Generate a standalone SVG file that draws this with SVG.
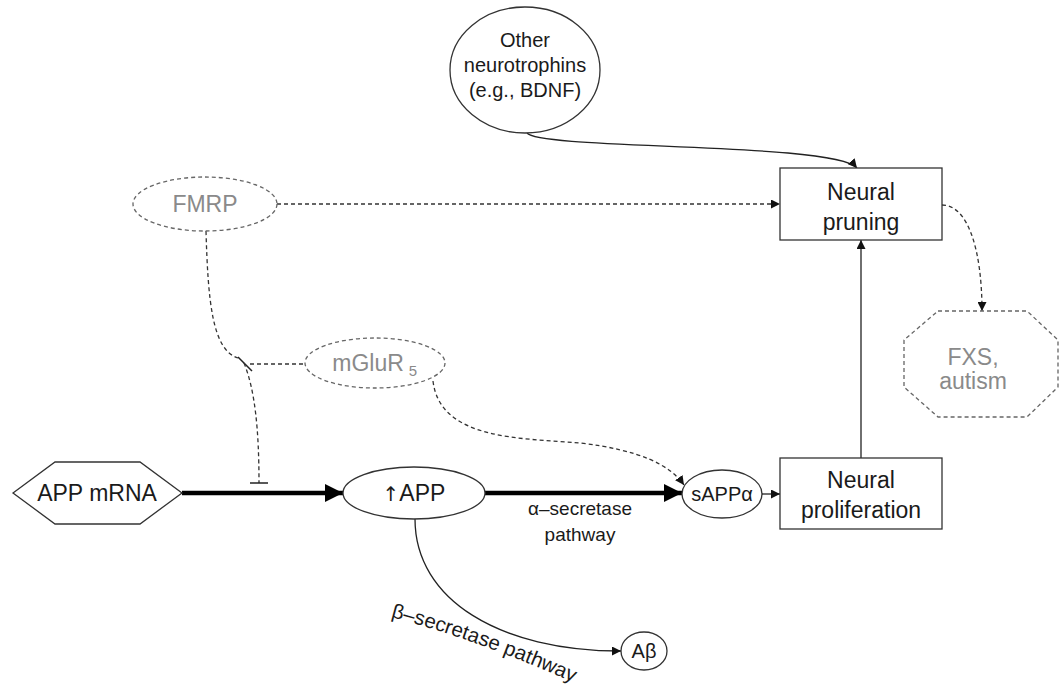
<svg xmlns="http://www.w3.org/2000/svg" width="1062" height="688" viewBox="0 0 1062 688">
<style>
.t{font-family:"Liberation Sans",Arial,sans-serif;fill:#1a1a1a;text-anchor:middle}
.g{fill:#8a8a8a}
.solid{fill:#fff;stroke:#333;stroke-width:1.3}
.dash{fill:#fff;stroke:#666;stroke-width:1.3;stroke-dasharray:4 3}
.ln{fill:none;stroke:#222;stroke-width:1.3}
.dl{fill:none;stroke:#333;stroke-width:1.3;stroke-dasharray:4 3}
.thick{fill:none;stroke:#000;stroke-width:4.5}
</style>
<defs>
<marker id="ah" viewBox="0 0 10 10" refX="10" refY="5" markerWidth="9" markerHeight="9" markerUnits="userSpaceOnUse" orient="auto"><path d="M0,0 L10,5 L0,10 z" fill="#111"/></marker>
<marker id="ahb" viewBox="0 0 10 10" refX="10" refY="5" markerWidth="4" markerHeight="4" orient="auto"><path d="M0,0 L10,5 L0,10 z" fill="#000"/></marker>
<path id="bpath" d="M391,617 Q 480,640 590,690"/>
</defs>
<rect width="1062" height="688" fill="#fff"/>

<g id="connectors">
  <path class="ln" d="M527,133 C 540,150 835,142 857,168" marker-end="url(#ah)"/>
  <path class="dl" d="M277,204 L780,204" marker-end="url(#ah)"/>
  <path class="dl" d="M206,231 C 208,300 212,350 238,358"/>
  <line x1="238" y1="357" x2="252" y2="371" stroke="#222" stroke-width="1.5"/>
  <path class="dl" d="M250,364 L303,364"/>
  <path class="dl" d="M244,363 C 255,390 259,430 259,483"/>
  <line x1="250" y1="483" x2="268" y2="483" stroke="#222" stroke-width="1.5"/>
  <path class="dl" d="M433,381 C 440,440 520,438 580,443 C 640,450 670,465 684,485" marker-end="url(#ah)"/>
  <path class="thick" d="M182,493 L343,493" marker-end="url(#ahb)"/>
  <path class="thick" d="M485,493 L682,493" marker-end="url(#ahb)"/>
  <path class="ln" d="M762,494 L780,494" marker-end="url(#ah)"/>
  <path class="ln" d="M861,458 L861,240" marker-end="url(#ah)"/>
  <path class="dl" d="M942,205 C 968,205 982,250 982,311" marker-end="url(#ah)"/>
  <path class="ln" d="M415,519 C 415,600 500,651 621,651" marker-end="url(#ah)"/>
  <text class="t" font-size="19"><tspan x="580" y="515">α–secretase</tspan><tspan x="580" y="541">pathway</tspan></text>
  <text class="t" font-size="20.5" style="text-anchor:start"><textPath href="#bpath">β–secretase pathway</textPath></text>
</g>

<g id="neurotrophins">
  <ellipse class="solid" cx="525" cy="70" rx="75" ry="63"/>
  <text class="t" font-size="20"><tspan x="525" y="47">Other</tspan><tspan x="525" y="72">neurotrophins</tspan><tspan x="525" y="97">(e.g., BDNF)</tspan></text>
</g>

<g id="fmrp">
  <ellipse class="dash" cx="205" cy="204" rx="72" ry="27"/>
  <text class="t g" font-size="23" x="205" y="212">FMRP</text>
</g>

<g id="mglur5">
  <ellipse class="dash" cx="375" cy="363" rx="70" ry="25"/>
  <text class="t g" font-size="23" x="368" y="371">mGluR</text>
  <text class="t g" font-size="15" x="413" y="376">5</text>
</g>

<g id="pruning">
  <rect class="solid" x="780" y="168" width="162" height="72"/>
  <text class="t" font-size="23"><tspan x="861" y="200">Neural</tspan><tspan x="861" y="230">pruning</tspan></text>
</g>

<g id="fxs">
  <polygon class="dash" points="938,311 1027,311 1058,340 1058,387 1027,417 938,417 904,387 904,340"/>
  <text class="t g" font-size="23"><tspan x="973" y="365">FXS,</tspan><tspan x="973" y="389">autism</tspan></text>
</g>

<g id="appmrna">
  <polygon class="solid" points="13,493 55,462 140,462 182,493 140,524 55,524"/>
  <text class="t" font-size="23" x="97" y="501">APP mRNA</text>
</g>

<g id="app">
  <ellipse class="solid" cx="414" cy="493" rx="71" ry="26"/>
  <text class="t" font-size="23" x="414" y="501"><tspan font-family="'DejaVu Sans',sans-serif" font-size="20">↑</tspan>APP</text>
</g>

<g id="sappa">
  <ellipse class="solid" cx="722" cy="494" rx="40" ry="24"/>
  <text class="t" font-size="20" x="722" y="501">sAPPα</text>
</g>

<g id="proliferation">
  <rect class="solid" x="780" y="458" width="162" height="71"/>
  <text class="t" font-size="23"><tspan x="861" y="488">Neural</tspan><tspan x="861" y="518">proliferation</tspan></text>
</g>

<g id="abeta">
  <ellipse class="solid" cx="644" cy="651" rx="23" ry="19"/>
  <text class="t" font-size="20" x="644" y="658">Aβ</text>
</g>
</svg>
